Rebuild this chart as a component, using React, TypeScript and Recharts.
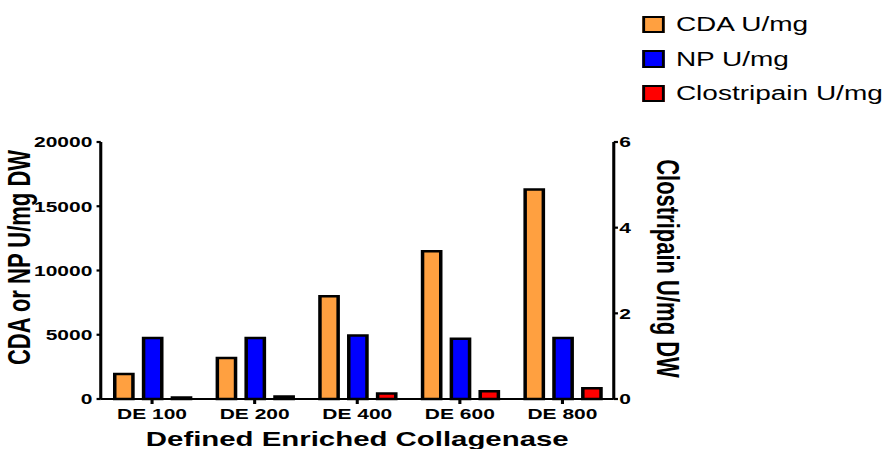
import React from 'react';
import { BarChart, Bar, XAxis, YAxis, Label } from 'recharts';

const categories = ['DE 100', 'DE 200', 'DE 400', 'DE 600', 'DE 800'];
const cdaValues = [1950, 3200, 8000, 11500, 16300];
const npValues = [4750, 4750, 4950, 4680, 4750];
const clostripainValues = [0.035, 0.06, 0.13, 0.18, 0.25];
const leftTicks = [0, 5000, 10000, 15000, 20000];
const rightTicks = [0, 2, 4, 6];

const seriesNames = ['CDA U/mg', 'NP U/mg', 'Clostripain U/mg'];
const seriesColors = ['#FFA040', '#0000FF', '#FF0000'];

const FONT = '"Liberation Sans", Arial, sans-serif';
const STRETCH = 890 / 636;

const data = categories.map((name, i) => ({
  name,
  cda: cdaValues[i],
  np: npValues[i],
  clo: clostripainValues[i],
}));

const tickStyle = { fill: '#000', fontSize: 15, fontWeight: 'bold', fontFamily: FONT };

const App: React.FC = () => {
  return (
    <div style={{ position: 'absolute', left: 0, top: 0, width: 636, height: 449, transform: `scaleX(${STRETCH})`, transformOrigin: '0 0', background: '#fff' }}>
      <BarChart
        width={636}
        height={449}
        data={data}
        margin={{ top: 142, right: 137.4, bottom: 0, left: 0 }}
        barCategoryGap="13%"
        barGap={7.6}
      >
        <XAxis
          dataKey="name"
          height={50}
          stroke="#000"
          strokeWidth={2.2}
          tickSize={5}
          tickMargin={4}
          tick={tickStyle}
          interval={0}
        >
          <Label
            content={(props: any) => {
              const vb = props.viewBox;
              return (
                <text x={vb.x + vb.width / 2} y={vb.y + 47} textAnchor="middle" fontSize={21} fontWeight="bold" fontFamily={FONT} fill="#000">
                  Defined Enriched Collagenase
                </text>
              );
            }}
          />
        </XAxis>
        <YAxis
          yAxisId="left"
          width={72}
          domain={[0, 20000]}
          ticks={leftTicks}
          interval={0}
          stroke="#000"
          strokeWidth={2.2}
          tickSize={3}
          tickMargin={3}
          tick={tickStyle}
        >
          <Label
            content={(props: any) => {
              const vb = props.viewBox;
              const x = vb.x + 14;
              const y = vb.y + vb.height / 2 - 13;
              return (
                <text x={x} y={y} transform={`rotate(-90 ${x} ${y})`} textAnchor="middle" dominantBaseline="central" fontSize={22} fontWeight="bold" fontFamily={FONT} fill="#000">
                  CDA or NP U/mg DW
                </text>
              );
            }}
          />
        </YAxis>
        <YAxis
          yAxisId="right"
          orientation="right"
          width={60}
          domain={[0, 6]}
          ticks={rightTicks}
          interval={0}
          stroke="#000"
          strokeWidth={2.2}
          tickSize={3}
          tickMargin={1}
          tick={tickStyle}
        >
          <Label
            content={(props: any) => {
              const vb = props.viewBox;
              const x = vb.x + 38;
              const y = vb.y + vb.height / 2 - 2;
              return (
                <text x={x} y={y} transform={`rotate(90 ${x} ${y})`} textAnchor="middle" dominantBaseline="central" fontSize={22} fontWeight="bold" fontFamily={FONT} fill="#000">
                  Clostripain U/mg DW
                </text>
              );
            }}
          />
        </YAxis>
        <Bar yAxisId="left" dataKey="cda" name={seriesNames[0]} fill={seriesColors[0]} stroke="#000" strokeWidth={2.5} barSize={13} isAnimationActive={false} />
        <Bar yAxisId="left" dataKey="np" name={seriesNames[1]} fill={seriesColors[1]} stroke="#000" strokeWidth={2.5} barSize={13} isAnimationActive={false} />
        <Bar yAxisId="right" dataKey="clo" name={seriesNames[2]} fill={seriesColors[2]} stroke="#000" strokeWidth={2.5} barSize={13} isAnimationActive={false} />
      </BarChart>

      <div style={{ position: 'absolute', left: 459, top: 7, fontFamily: FONT }}>
        {seriesNames.map((name, i) => (
          <div key={name} style={{ display: 'flex', alignItems: 'center', height: 34.5 }}>
            <div style={{ width: 12, height: 13.5, border: '2.5px solid #000', background: seriesColors[i] }} />
            <span style={{ marginLeft: 8, fontSize: 20, color: '#000', lineHeight: '20px' }}>{name}</span>
          </div>
        ))}
      </div>
    </div>
  );
};

export default App;
